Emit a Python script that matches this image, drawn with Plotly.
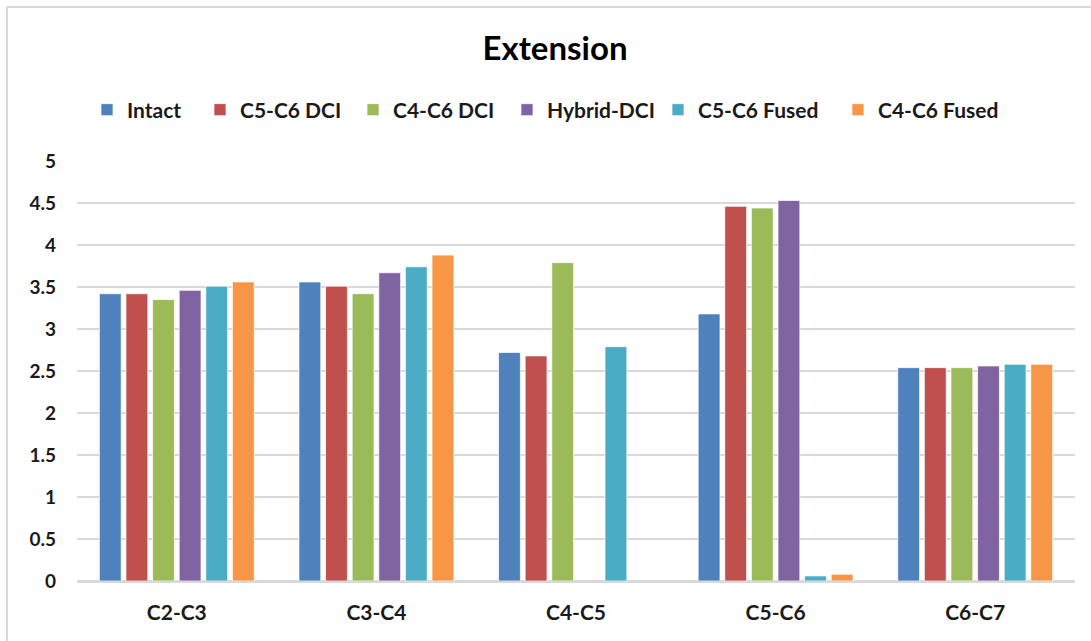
import plotly.graph_objects as go

categories = ["C2-C3", "C3-C4", "C4-C5", "C5-C6", "C6-C7"]
series_names = ["Intact", "C5-C6 DCI", "C4-C6 DCI", "Hybrid-DCI", "C5-C6 Fused", "C4-C6 Fused"]
intact = [3.42, 3.56, 2.72, 3.18, 2.54]
c5c6_dci = [3.42, 3.51, 2.68, 4.46, 2.54]
c4c6_dci = [3.35, 3.42, 3.79, 4.44, 2.54]
hybrid_dci = [3.46, 3.67, None, 4.53, 2.56]
c5c6_fused = [3.51, 3.74, 2.79, 0.06, 2.58]
c4c6_fused = [3.56, 3.88, None, 0.08, 2.58]
colors = ["#4F81BD", "#C0504D", "#9BBB59", "#8064A2", "#4BACC6", "#F79646"]
y_ticks = [0, 0.5, 1, 1.5, 2, 2.5, 3, 3.5, 4, 4.5, 5]

all_series = [intact, c5c6_dci, c4c6_dci, hybrid_dci, c5c6_fused, c4c6_fused]

W, H = 1091, 641
L, R, T, B = 77, 16, 161, 60
pw, ph = W - L - R, H - T - B

FONT = "Lato"
TXT = "#1a1a1a"
legend_text_x = [125, 238, 391, 545, 696, 876]  # reference pixel x of legend text starts

fig = go.Figure()
legend_layouts = {}
for i, (name, vals, col) in enumerate(zip(series_names, all_series, colors)):
    lname = "legend" if i == 0 else f"legend{i+1}"
    fig.add_trace(go.Bar(
        name=name, x=categories, y=vals, legend=lname, showlegend=True,
        marker=dict(color=col, line=dict(color="rgba(255,255,255,0.7)", width=1)),
    ))
    lx = (legend_text_x[i] - 38 - L) / pw
    legend_layouts[lname] = dict(
        orientation="h", x=lx, xanchor="left",
        y=(H - B - 110) / ph, yanchor="middle",
        font=dict(family=FONT, size=21, color=TXT, weight="bold"),
        itemwidth=30, bgcolor="rgba(0,0,0,0)",
    )

fig.update_layout(
    width=W, height=H, showlegend=True,
    margin=dict(l=L, r=R, t=T, b=B),
    paper_bgcolor="white", plot_bgcolor="white",
    barmode="group", bargap=0.2, bargroupgap=0.18,
    title=dict(text="<b>Extension</b>", x=(555 - L) / pw, xref="paper", xanchor="center",
               y=1 - 48 / H, yanchor="middle",
               font=dict(family=FONT, size=33, color="#000000")),
    font=dict(family=FONT),
    xaxis=dict(showgrid=False, showline=True, linecolor="#d9d9d9", linewidth=1.5,
               ticks="", tickfont=dict(family=FONT, size=21, color=TXT, weight="bold"),
               ticklabelstandoff=12),
    yaxis=dict(range=[0, 5], tickvals=y_ticks, ticktext=[str(v) for v in y_ticks],
               showgrid=True, gridcolor="#d9d9d9", gridwidth=1.5,
               zeroline=True, zerolinecolor="#d9d9d9", zerolinewidth=1.5,
               showline=False, ticks="", ticklabelstandoff=20,
               tickfont=dict(family=FONT, size=19, color=TXT, weight="bold")),
    shapes=[dict(type="rect", xref="paper", yref="paper",
                 x0=(7 - L) / pw, x1=(W + 20 - L) / pw,
                 y0=-(B + 20) / ph, y1=(H - B - 7) / ph,
                 line=dict(color="#d9d9d9", width=2), fillcolor="rgba(0,0,0,0)", layer="below")],
    **legend_layouts,
)

fig.write_html("out.html", config={"displayModeBar": False},
               post_script="document.body.style.margin='0';")
